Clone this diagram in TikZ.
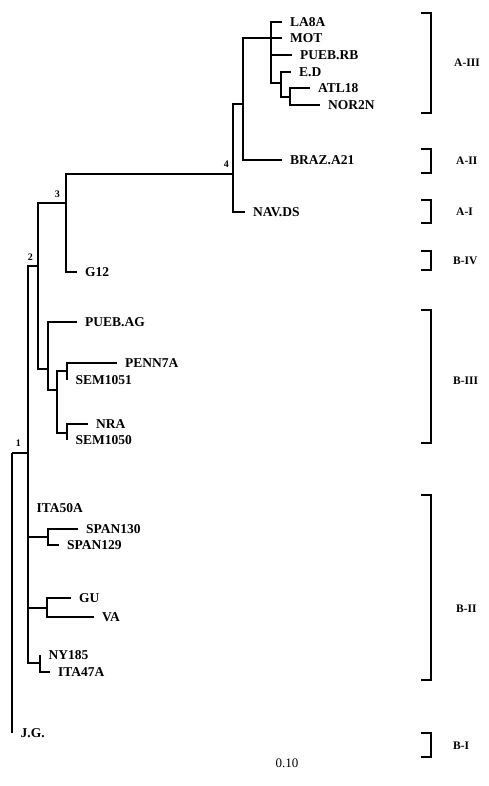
\documentclass[tikz,border=0pt]{standalone}
\usepackage{fontspec}
\setmainfont{Liberation Serif}
\usepackage{tikz}
\usetikzlibrary{positioning}

\begin{document}
\begin{tikzpicture}[
  x=1pt, y=-1pt,
  br/.style={line width=1.7pt, line join=miter},
  leaf/.style={anchor=west, inner sep=0pt, font=\fontsize{13.5}{14}\selectfont\bfseries, text height=9.3pt, text depth=0pt},
  num/.style={anchor=south east, inner sep=0pt, font=\fontsize{10}{11}\selectfont\bfseries, text depth=0pt},
  grp/.style={anchor=west, inner sep=0pt, font=\fontsize{11.5}{12}\selectfont\bfseries, text height=8pt, text depth=0pt},
  brk/.style={line width=1.2pt, line join=miter}
]
\useasboundingbox (0,0) rectangle (488,786);

% Internal nodes
\coordinate (n1) at (12,453);
\coordinate (nBII) at (28,453);
\coordinate (n2) at (38,266);
\coordinate (n3) at (66,203);
\coordinate (n4) at (233,174);
\coordinate (nA) at (243,104);
\coordinate (nAIII) at (271,38);
\coordinate (nED) at (281,83);
\coordinate (nATL) at (290,97);
\coordinate (nBIII) at (48,369);
\coordinate (nPS) at (57,390);
\coordinate (nPENN) at (67,371);
\coordinate (nNRA) at (67,433);
\coordinate (nSPAN) at (48,537);
\coordinate (nGU) at (47,608);
\coordinate (nNY) at (40,663);

% Leaves
\node[leaf] (la8a) at (290,22) {LA8A};
\node[leaf] (mot) at (290,38) {MOT};
\node[leaf] (puebrb) at (300,55) {PUEB.RB};
\node[leaf] (ed) at (299,72) {E.D};
\node[leaf] (atl) at (318,88) {ATL18};
\node[leaf] (nor) at (328,105) {NOR2N};
\node[leaf] (braz) at (290,160) {BRAZ.A21};
\node[leaf] (nav) at (253,212) {NAV.DS};
\node[leaf] (g12) at (85,272) {G12};
\node[leaf] (puebag) at (85,322) {PUEB.AG};
\node[leaf] (penn) at (125,363) {PENN7A};
\node[leaf] (sem51) at (75.5,380) {SEM1051};
\node[leaf] (nra) at (96,424) {NRA};
\node[leaf] (sem50) at (75.5,440) {SEM1050};
\node[leaf] (ita50) at (36.5,508) {ITA50A};
\node[leaf] (span130) at (86,529) {SPAN130};
\node[leaf] (span129) at (67,545) {SPAN129};
\node[leaf] (gu) at (79,598) {GU};
\node[leaf] (va) at (102,617) {VA};
\node[leaf] (ny) at (48.5,655) {NY185};
\node[leaf] (ita47) at (58,672) {ITA47A};
\node[leaf] (jg) at (20.5,733) {J.G.};

% Branches
\draw[br] (n1) |- (nBII);
\draw[br] (n1) |- ([xshift=-8.5pt]jg.west);
\draw[br] (nBII) |- (n2);
\draw[br] (nBII) |- ([xshift=-8.5pt]ita50.west);
\draw[br] (nBII) |- (nSPAN);
\draw[br] (nBII) |- (nGU);
\draw[br] (nBII) |- (nNY);
\draw[br] (n2) |- (n3);
\draw[br] (n2) |- (nBIII);
\draw[br] (n3) |- (n4);
\draw[br] (n3) |- ([xshift=-8.5pt]g12.west);
\draw[br] (n4) |- (nA);
\draw[br] (n4) |- ([xshift=-8.5pt]nav.west);
\draw[br] (nA) |- (nAIII);
\draw[br] (nA) |- ([xshift=-8.5pt]braz.west);
\draw[br] (nAIII) |- ([xshift=-8.5pt]la8a.west);
\draw[br] (nAIII) |- ([xshift=-8.5pt]mot.west);
\draw[br] (nAIII) |- ([xshift=-8.5pt]puebrb.west);
\draw[br] (nAIII) |- (nED);
\draw[br] (nED) |- ([xshift=-8.5pt]ed.west);
\draw[br] (nED) |- (nATL);
\draw[br] (nATL) |- ([xshift=-8.5pt]atl.west);
\draw[br] (nATL) |- ([xshift=-8.5pt]nor.west);
\draw[br] (nBIII) |- ([xshift=-8.5pt]puebag.west);
\draw[br] (nBIII) |- (nPS);
\draw[br] (nPS) |- (nPENN);
\draw[br] (nPS) |- (nNRA);
\draw[br] (nPENN) |- ([xshift=-8.5pt]penn.west);
\draw[br] (nPENN) |- ([xshift=-8.5pt]sem51.west);
\draw[br] (nNRA) |- ([xshift=-8.5pt]nra.west);
\draw[br] (nNRA) |- ([xshift=-8.5pt]sem50.west);
\draw[br] (nSPAN) |- ([xshift=-8.5pt]span130.west);
\draw[br] (nSPAN) |- ([xshift=-8.5pt]span129.west);
\draw[br] (nGU) |- ([xshift=-8.5pt]gu.west);
\draw[br] (nGU) |- ([xshift=-8.5pt]va.west);
\draw[br] (nNY) |- ([xshift=-8.5pt]ny.west);
\draw[br] (nNY) |- ([xshift=-8.5pt]ita47.west);

% Node numbers
\node[num] (lab1) at (21,447) {1};
\node[num] (lab2) at (33,261) {2};
\node[num] (lab3) at (60,198) {3};
\node[num] (lab4) at (229,168) {4};

% Groups
\draw[brk] (421,13) -- (431,13) -- (431,113) -- (421,113);
\node[grp] (gAIII) at (454,63) {A-III};
\draw[brk] (421,149) -- (431,149) -- (431,173) -- (421,173);
\node[grp] (gAII) at (456,161) {A-II};
\draw[brk] (421,200) -- (431,200) -- (431,223) -- (421,223);
\node[grp] (gAI) at (456,211) {A-I};
\draw[brk] (421,251) -- (431,251) -- (431,270) -- (421,270);
\node[grp] (gBIV) at (453,260) {B-IV};
\draw[brk] (421,310) -- (431,310) -- (431,443) -- (421,443);
\node[grp] (gBIII) at (453,380) {B-III};
\draw[brk] (421,495) -- (431,495) -- (431,680) -- (421,680);
\node[grp] (gBII) at (456,608) {B-II};
\draw[brk] (421,733) -- (431,733) -- (431,757) -- (421,757);
\node[grp] (gBI) at (453,745) {B-I};

% Scale
\node[font=\fontsize{13}{14}\selectfont, inner sep=0pt] (scale) at (287,763) {0.10};

\end{tikzpicture}
\end{document}
